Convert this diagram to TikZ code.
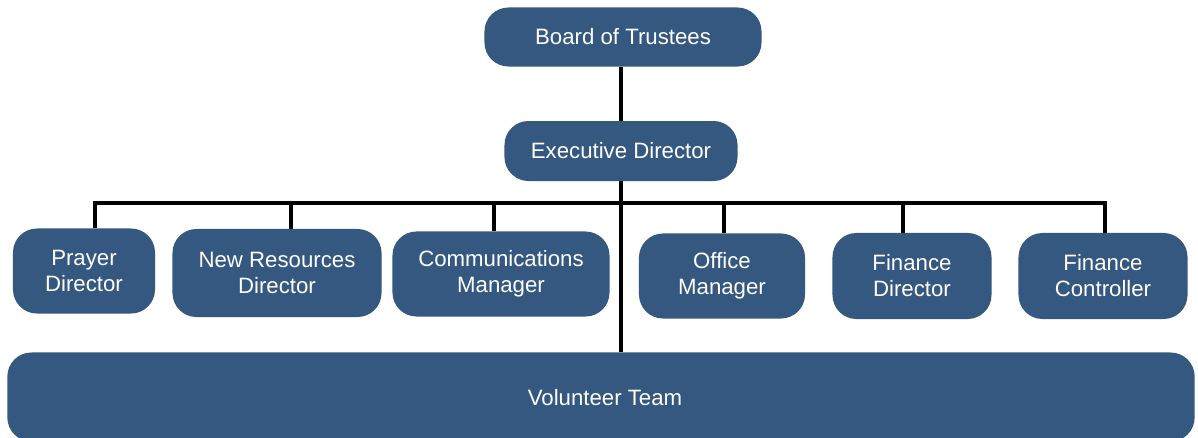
\documentclass[tikz,border=0pt]{standalone}
\usepackage{fontspec}
\setmainfont{Liberation Sans}
\definecolor{boxblue}{RGB}{52,88,128}
\tikzset{
  orgbox/.style={draw=none, fill=boxblue, text=white, rounded corners=0.6cm,
    align=center, inner sep=0pt, font=\fontsize{15.8}{18.5}\selectfont},
  link/.style={draw=black, line width=2.2pt}
}
\begin{document}
\begin{tikzpicture}[x=0.025cm,y=-0.025cm]
    \useasboundingbox (0,0) rectangle (1198,437);
    % top of the tree
    \node[orgbox, minimum width=6.925cm, minimum height=1.475cm] (board) at (623,37) {Board of Trustees};
    \node[orgbox, minimum width=5.825cm, minimum height=1.5cm] (exec) at (621,151) {Executive Director};
    %
    \node[orgbox, minimum width=3.55cm, minimum height=2.125cm] (prayer) at (84,271) {Prayer\\Director};
    \node[orgbox, minimum width=5.225cm, minimum height=2.2cm] (newres) at (277,273) {New Resources\\Director};
    \node[orgbox, minimum width=5.425cm, minimum height=2.125cm] (comms) at (501,274) {Communications\\Manager};
    \node[orgbox, minimum width=4.15cm, minimum height=2.125cm] (office) at (722,276) {Office\\Manager};
    \node[orgbox, minimum width=3.975cm, minimum height=2.15cm] (findir) at (912,276) {Finance\\Director};
    \node[orgbox, minimum width=4.225cm, minimum height=2.15cm] (finctrl) at (1103,276) {Finance\\Controller};
    %
    \node[orgbox, minimum width=29.675cm, minimum height=2.225cm] (volunteer) at (601,397) {};
    \node[text=white, font=\fontsize{15.8}{18.5}\selectfont] (volname) at (605,398) {Volunteer Team};
    % connectors
    \coordinate (bus) at (622,203);
    \draw[link] (board.south -| exec.south) -- (exec.north);
    \draw[link] (exec.south) -- (exec.south |- volunteer.north);
    \foreach \n/\dx in {prayer/11, newres/14, comms/-7, office/2, findir/-9, finctrl/2}
      \coordinate (\n-drop) at ([xshift=\dx*0.025cm]\n.north);
    \draw[link] (prayer-drop) -- (prayer-drop |- bus) -- (finctrl-drop |- bus) -- (finctrl-drop);
    \foreach \n in {newres, comms, office, findir}
      \draw[link] (\n-drop) -- (\n-drop |- bus);
  \end{tikzpicture}
\end{document}
